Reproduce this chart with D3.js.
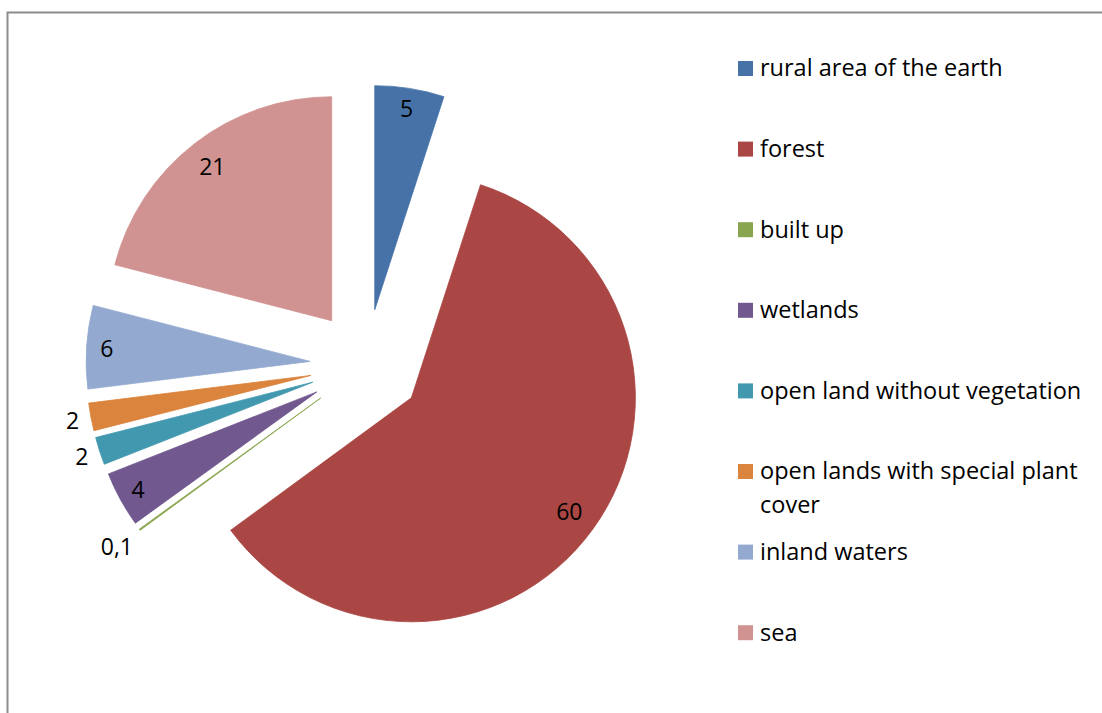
<!DOCTYPE html>
<html>
<head>
<meta charset="utf-8">
<script src="https://cdn.jsdelivr.net/npm/d3@7"></script>
<style>
  html, body { margin: 0; padding: 0; background: #fff; }
  svg text { font-family: "Open Sans", sans-serif; fill: #000; }
</style>
</head>
<body>
<svg id="chart" width="1102" height="713"></svg>
<script>
const categories = ["rural area of the earth", "forest", "built up", "wetlands",
  "open land without vegetation", "open lands with special plant cover", "inland waters", "sea"]
const values = [5, 60, 0.1, 4, 2, 2, 6, 21]
const valueLabels = ["5", "60", "0,1", "4", "2", "2", "6", "21"]
const colors = ["#4672A8", "#AA4643", "#89A54E", "#71588F", "#4198AF", "#DB843D", "#93A9CF", "#D19392"]

const svg = d3.select("#chart")

// frame (only top and left edges are visible in the picture)
svg.append("rect")
  .attr("x", 7.5).attr("y", 12.5)
  .attr("width", 1110).attr("height", 720)
  .attr("fill", "none")
  .attr("stroke", "#8c8c8c")
  .attr("stroke-width", 2)

const cx = 366, cy = 365
const radius = 224
const explode = 56

const pie = d3.pie().sort(null).value(d => d)
const arcs = pie(values)
const arc = d3.arc().innerRadius(0).outerRadius(radius)

const mid = d => (d.startAngle + d.endAngle) / 2
const dir = a => [Math.sin(a), -Math.cos(a)]

const g = svg.append("g").attr("transform", `translate(${cx},${cy})`)

const slice = g.selectAll("g.slice")
  .data(arcs)
  .join("g")
    .attr("class", "slice")
    .attr("transform", d => {
      const [x, y] = dir(mid(d))
      return `translate(${x * explode},${y * explode})`
    })

slice.append("path")
  .attr("d", arc)
  .attr("fill", (d, i) => colors[i])
  .attr("stroke", (d, i) => colors[i])
  .attr("stroke-width", 0.8)

slice.append("text")
  .text((d, i) => valueLabels[i])
  .attr("font-size", 23)
  .attr("text-anchor", "middle")
  .attr("dy", "0.36em")
  .each(function (d) {
    const t = d3.select(this)
    const [x, y] = dir(mid(d))
    let r
    if (d.value >= 4) {
      r = radius * (d.value > 10 ? 0.87 : 0.91)
    } else {
      r = radius + 12 + this.getComputedTextLength() / 2
    }
    t.attr("x", x * r).attr("y", y * r)
  })

// legend
const legend = svg.append("g").attr("transform", "translate(738,68)")
const rowH = 80.6

const item = legend.selectAll("g")
  .data(categories)
  .join("g")
    .attr("transform", (d, i) => `translate(0,${i * rowH})`)

item.append("rect")
  .attr("x", 0).attr("y", -7)
  .attr("width", 15).attr("height", 15)
  .attr("fill", (d, i) => colors[i])

item.append("text")
  .attr("font-size", 23.5)
  .each(function (d) {
    const t = d3.select(this)
    // wrap long names like the reference
    const lines = d.length > 30 ? ["open lands with special plant", "cover"] : [d]
    lines.forEach((ln, k) => {
      t.append("tspan").attr("x", 22).attr("dy", k === 0 ? "0.36em" : 34).text(ln)
    })
  })
</script>
</body>
</html>
